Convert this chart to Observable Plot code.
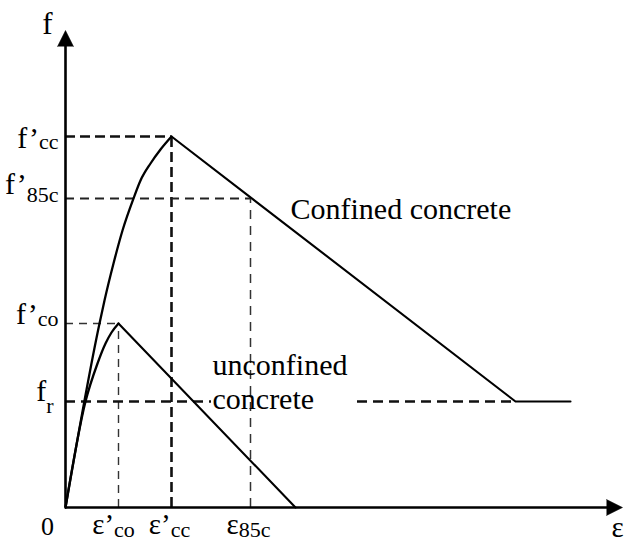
<!DOCTYPE html>
<html>
<head>
<meta charset="utf-8">
<script src="https://cdn.jsdelivr.net/npm/d3@7"></script>
<script src="https://cdn.jsdelivr.net/npm/@observablehq/plot@0.6"></script>
<style>
  html, body { margin: 0; padding: 0; background: #fff; }
  #chart svg { display: block; overflow: visible; }
  #chart svg text { font-family: "Liberation Serif", "Times New Roman", serif !important; }
</style>
</head>
<body>
<div id="chart"></div>
<script>
// ---- values (arbitrary strain / stress units) ----
const strainNames  = ["ε’_co", "ε’_cc", "ε_85c"];
const strainValues = [53, 106, 185];
const stressNames  = ["f’_cc", "f’_85c", "f’_co", "f_r"];
const stressValues = [371, 309, 184, 106];

const confinedAscStrain   = [0, 34, 39, 48, 57, 68, 75, 85, 95, 106];
const confinedAscStress   = [0, 184, 207, 244, 277, 309, 327, 344, 358, 371];
const confinedDescStrain  = [106, 450, 505];
const confinedDescStress  = [371, 106, 106];
const unconfinedAscStrain  = [0, 20, 32, 40, 46, 53];
const unconfinedAscStress  = [0, 106, 144, 164, 175, 184];
const unconfinedDescStrain = [53, 230];
const unconfinedDescStress = [184, 0];

const residualDashStart = [0, 292];
const residualDashEnd   = [146, 450];

const axisStrainMax = 557;
const axisStressMax = 477;

const curveLabelText   = ["Confined concrete", "unconfined", "concrete"];
const curveLabelStrain = [225, 147, 147];
const curveLabelStress = [289, 133, 99];

// ---- build tables ----
const pts = (xs, ys) => xs.map((x, i) => ({x, y: ys[i]}));
const confinedAsc = pts(confinedAscStrain, confinedAscStress);
const confinedDesc = pts(confinedDescStrain, confinedDescStress);
const unconfinedAsc = pts(unconfinedAscStrain, unconfinedAscStress);
const unconfinedDesc = pts(unconfinedDescStrain, unconfinedDescStress);

const serif = "'Liberation Serif', 'Times New Roman', serif";
const ARROW = 16;
const SUB_SIZE = 22;

// layout of tick labels (offsets in px)
const stressLayout = {
  "f’_cc":  {dx: -7,  dy: 11, sub: 1},
  "f’_85c": {dx: -7,  dy: -5, sub: 8},
  "f’_co":  {dx: -7,  dy: 0,  sub: 2},
  "f_r":    {dx: -12, dy: -1, sub: 12}
};
const strainLayout = {
  "ε’_co": {dx: -5, dy: 26, sub: 3},
  "ε’_cc": {dx: -2, dy: 26, sub: 3},
  "ε_85c": {dx: -2, dy: 26, sub: 3}
};

const marks = [
  // dashed guides: f'cc (to ε'cc), f'85c (to ε85c), f'co (to ε'co)
  Plot.ruleY([0], {y: stressValues[0], x1: 0, x2: strainValues[1], stroke: "#111", strokeWidth: 2.6, strokeDasharray: "10,5"}),
  Plot.ruleX([0], {x: strainValues[1], y1: 0, y2: stressValues[0], stroke: "#111", strokeWidth: 2.6, strokeDasharray: "10,5"}),
  Plot.ruleY([0], {y: stressValues[1], x1: 0, x2: strainValues[2], stroke: "#222", strokeWidth: 1.9, strokeDasharray: "9,6"}),
  Plot.ruleX([0], {x: strainValues[2], y1: 0, y2: stressValues[1], stroke: "#333", strokeWidth: 1.5, strokeDasharray: "9,7"}),
  Plot.ruleY([0], {y: stressValues[2], x1: 0, x2: strainValues[0], stroke: "#333", strokeWidth: 1.4, strokeDasharray: "8,6"}),
  Plot.ruleX([0], {x: strainValues[0], y1: 0, y2: stressValues[2], stroke: "#333", strokeWidth: 1.4, strokeDasharray: "8,6"}),
  // residual stress f_r dashed line (broken around the label)
  Plot.ruleY(residualDashStart.map((s, i) => i), {y: stressValues[3], x1: i => residualDashStart[i], x2: i => residualDashEnd[i], stroke: "#111", strokeWidth: 2.6, strokeDasharray: "10,6"}),

  // curves
  Plot.line(confinedAsc, {x: "x", y: "y", curve: "monotone-x", stroke: "#000", strokeWidth: 2.3}),
  Plot.line(confinedDesc, {x: "x", y: "y", stroke: "#000", strokeWidth: 2.1}),
  Plot.line(unconfinedAsc, {x: "x", y: "y", curve: "monotone-x", stroke: "#000", strokeWidth: 2.3}),
  Plot.line(unconfinedDesc, {x: "x", y: "y", stroke: "#000", strokeWidth: 2.1}),

  // axes with arrowheads
  Plot.ruleX([0], {y1: 0, y2: axisStressMax - ARROW + 1, stroke: "#000", strokeWidth: 2.6}),
  Plot.ruleY([0], {x1: 0, x2: axisStrainMax - ARROW + 1, stroke: "#000", strokeWidth: 2.6}),
  Plot.vector([0], {x: 0, y: axisStressMax - ARROW, length: ARROW, r: 8, shape: "spike", anchor: "start", rotate: 0, fill: "#000", stroke: "#000", strokeWidth: 0.5}),
  Plot.vector([0], {x: axisStrainMax - ARROW, y: 0, length: ARROW, r: 8, shape: "spike", anchor: "start", rotate: 90, fill: "#000", stroke: "#000", strokeWidth: 0.5}),

  // axis titles and origin
  Plot.text(["f"], {x: 0, y: axisStressMax, dx: -18, dy: 3, text: d => d, textAnchor: "middle", lineAnchor: "bottom", fontSize: 31, fontFamily: serif, fill: "#000"}),
  Plot.text(["ε"], {x: axisStrainMax, y: 0, dx: -5, dy: 29, text: d => d, textAnchor: "middle", lineAnchor: "bottom", fontSize: 29, fontFamily: serif, fill: "#000"}),
  Plot.text(["0"], {x: 0, y: 0, dx: -18, dy: 27, text: d => d, textAnchor: "middle", lineAnchor: "bottom", fontSize: 26, fontFamily: serif, fill: "#000"}),

  // stress tick labels
  ...stressNames.map((n, i) => Plot.text([i], {
    x: 0, y: j => stressValues[j], text: j => stressNames[j],
    dx: stressLayout[n].dx, dy: stressLayout[n].dy,
    textAnchor: "end", lineAnchor: "bottom", fontSize: 30, fontFamily: serif, fill: "#000"
  })),
  // strain tick labels
  ...strainNames.map((n, i) => Plot.text([i], {
    x: j => strainValues[j], y: 0, text: j => strainNames[j],
    dx: strainLayout[n].dx, dy: strainLayout[n].dy,
    textAnchor: "middle", lineAnchor: "bottom", fontSize: 29, fontFamily: serif, fill: "#000"
  })),

  // curve labels
  Plot.text(curveLabelText.map((t, i) => i), {
    x: i => curveLabelStrain[i], y: i => curveLabelStress[i], text: i => curveLabelText[i],
    textAnchor: "start", lineAnchor: "bottom", fontSize: 30, fontFamily: serif, fill: "#000"
  })
];

const chart = Plot.plot({
  width: 638,
  height: 542,
  marginLeft: 65,
  marginRight: 16,
  marginTop: 30,
  marginBottom: 35,
  x: {domain: [0, axisStrainMax], axis: null},
  y: {domain: [0, axisStressMax], axis: null},
  style: {background: "#fff", overflow: "visible"},
  marks
});

// turn "base_sub" labels into base + subscript tspans
const ns = "http://www.w3.org/2000/svg";
const subShift = Object.assign({}, ...Object.entries(stressLayout).map(([k, v]) => ({[k]: v.sub})),
                                   ...Object.entries(strainLayout).map(([k, v]) => ({[k]: v.sub})));
chart.querySelectorAll("text").forEach(t => {
  const s = t.textContent;
  if (!s.includes("_")) return;
  const [a, b] = s.split("_");
  t.textContent = "";
  const t1 = document.createElementNS(ns, "tspan");
  t1.textContent = a;
  const t2 = document.createElementNS(ns, "tspan");
  t2.textContent = b;
  t2.setAttribute("font-size", SUB_SIZE);
  t2.setAttribute("dy", subShift[s] ?? 4);
  t.append(t1, t2);
});

document.getElementById("chart").append(chart);
</script>
</body>
</html>
